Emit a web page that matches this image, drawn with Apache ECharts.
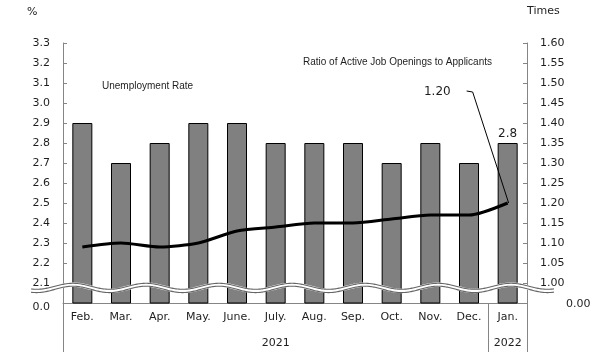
<!DOCTYPE html>
<html><head><meta charset="utf-8">
<script src="https://cdn.jsdelivr.net/npm/echarts@6/dist/echarts.min.js"></script>
<style>html,body{margin:0;padding:0;background:#fff}#c{width:605px;height:355px}</style>
</head><body><div id="c"></div>
<script>
// ---- data ----
const months = ['Feb.','Mar.','Apr.','May.','June.','July.','Aug.','Sep.','Oct.','Nov.','Dec.','Jan.'];
const years = ['','','','','','2021','','','','','','2022'];
const unemploymentRate = [2.9,2.7,2.8,2.9,2.9,2.8,2.8,2.8,2.7,2.8,2.7,2.8];
const jobRatio = [1.09,1.10,1.09,1.10,1.13,1.14,1.15,1.15,1.16,1.17,1.17,1.20];
const leftAxis = {min: 2.0, max: 3.3, interval: 0.1, breakLabel: '0.0'};
const rightAxis = {min: 0.95, max: 1.60, interval: 0.05, breakLabel: '0.00'};

const FONT = 'DejaVu Sans';
const TXT = '#1e1e1e';
const AXIS = '#858585';

const chart = echarts.init(document.getElementById('c'), null, {renderer: 'canvas'});
const lastIdx = unemploymentRate.length - 1;

chart.setOption({
  animation: false,
  grid: {left: 63, right: 78, top: 43, bottom: 52},
  xAxis: [{
    type: 'category', data: months, position: 'bottom',
    axisLine: {lineStyle: {color: AXIS, width: 1}},
    axisTick: {show: false},
    axisLabel: {interval: 0, margin: 9, color: TXT, fontFamily: FONT, fontSize: 11}
  }, {
    type: 'category', data: years, position: 'bottom', offset: 26,
    axisLine: {show: false}, axisTick: {show: false},
    axisLabel: {interval: 0, margin: 9, color: TXT, fontFamily: FONT, fontSize: 11}
  }],
  yAxis: [{
    type: 'value', min: leftAxis.min, max: leftAxis.max, interval: leftAxis.interval,
    splitLine: {show: false},
    axisLine: {show: true, lineStyle: {color: AXIS}},
    axisTick: {show: true, inside: true, length: 4, lineStyle: {color: AXIS}},
    axisLabel: {
      margin: 13, color: TXT, fontFamily: FONT, fontSize: 11,
      formatter: v => v < leftAxis.min + leftAxis.interval / 2 ? '{b|' + leftAxis.breakLabel + '}' : v.toFixed(1),
      rich: {b: {color: TXT, fontFamily: FONT, fontSize: 11, padding: [8, 0, 0, 0]}}
    }
  }, {
    type: 'value', min: rightAxis.min, max: rightAxis.max, interval: rightAxis.interval,
    position: 'right',
    splitLine: {show: false},
    axisLine: {show: true, lineStyle: {color: AXIS}},
    axisTick: {show: true, inside: true, length: 4, lineStyle: {color: AXIS}},
    axisLabel: {
      margin: 13, color: TXT, fontFamily: FONT, fontSize: 11,
      formatter: v => v < rightAxis.min + rightAxis.interval / 2 ? '{b|' + rightAxis.breakLabel + '}' : v.toFixed(2),
      rich: {b: {color: TXT, fontFamily: FONT, fontSize: 11, padding: [2, 0, 0, 26]}}
    }
  }],
  series: [{
    type: 'bar', xAxisIndex: 0, yAxisIndex: 0, barWidth: 20,
    itemStyle: {color: '#808080', borderColor: '#000', borderWidth: 1},
    data: unemploymentRate.map((v, i) => i === lastIdx ? {
      value: v,
      label: {show: true, position: 'top', distance: 3, color: TXT, fontFamily: FONT, fontSize: 12, formatter: p => p.value.toFixed(1)}
    } : v),
    z: 2
  }, {
    type: 'line', xAxisIndex: 0, yAxisIndex: 1, data: jobRatio,
    symbol: 'none', smooth: 0.25,
    lineStyle: {color: '#000', width: 3},
    z: 5
  }]
});

// ---- decorations: axis break wave, extension lines, annotations ----
const y21 = chart.convertToPixel({yAxisIndex: 0}, leftAxis.min + leftAxis.interval);
const yBottom = chart.convertToPixel({yAxisIndex: 0}, leftAxis.min);
const xLeft = 63, xRight = 605 - 78;
function wave(c, amp) {
  const pts = [];
  for (let x = 31; x <= 554; x += 1) {
    pts.push([x, c - amp * Math.cos(2 * Math.PI * (x - 73) / 73)]);
  }
  return pts;
}
const pJan = chart.convertToPixel({seriesIndex: 1}, [lastIdx, jobRatio[lastIdx]]);
const xDec = chart.convertToPixel({xAxisIndex: 0}, months[lastIdx - 1]);
const xJan = chart.convertToPixel({xAxisIndex: 0}, months[lastIdx]);
const xSep = (xDec + xJan) / 2;
const extBottom = 352;

chart.setOption({
  graphic: [
    {type: 'polyline', z: 50, shape: {points: wave(y21 + 4.8, 3.1)}, style: {stroke: '#fff', lineWidth: 4.5, fill: null}},
    {type: 'polyline', z: 51, shape: {points: wave(y21 + 3.3, 3)}, style: {stroke: '#666', lineWidth: 1.1, fill: null}},
    {type: 'polyline', z: 51, shape: {points: wave(y21 + 6.4, 3.2)}, style: {stroke: '#666', lineWidth: 1.1, fill: null}},
    {type: 'line', z: 10, shape: {x1: xLeft + 0.5, y1: yBottom, x2: xLeft + 0.5, y2: extBottom}, style: {stroke: AXIS, lineWidth: 1}},
    {type: 'line', z: 10, shape: {x1: Math.round(xSep) + 0.5, y1: yBottom, x2: Math.round(xSep) + 0.5, y2: extBottom}, style: {stroke: AXIS, lineWidth: 1}},
    {type: 'line', z: 10, shape: {x1: xRight + 0.5, y1: yBottom, x2: xRight + 0.5, y2: extBottom}, style: {stroke: AXIS, lineWidth: 1}},
    {type: 'text', z: 20, left: 27, top: 7, style: {text: '%', fill: TXT, font: '11px "' + FONT + '"'}},
    {type: 'text', z: 20, left: 527, top: 6, style: {text: 'Times', fill: TXT, font: '11px "' + FONT + '"'}},
    {type: 'text', z: 20, left: 102, top: 81, style: {text: 'Unemployment Rate', fill: TXT, font: '10px "Liberation Sans"'}},
    {type: 'text', z: 20, left: 303, top: 57, style: {text: 'Ratio of Active Job Openings to Applicants', fill: TXT, font: '10px "Liberation Sans"'}},
    {type: 'text', z: 20, x: pJan[0] - 57, y: pJan[1] - 111, style: {text: jobRatio[lastIdx].toFixed(2), fill: TXT, font: '12px "' + FONT + '"', align: 'right', verticalAlign: 'middle'}},
    {type: 'polyline', z: 20, shape: {points: [[pJan[0] - 41, pJan[1] - 112], [pJan[0] - 35, pJan[1] - 111], [pJan[0] + 1, pJan[1]]]}, style: {stroke: '#000', lineWidth: 1, fill: null}}
  ]
});
</script></body></html>
